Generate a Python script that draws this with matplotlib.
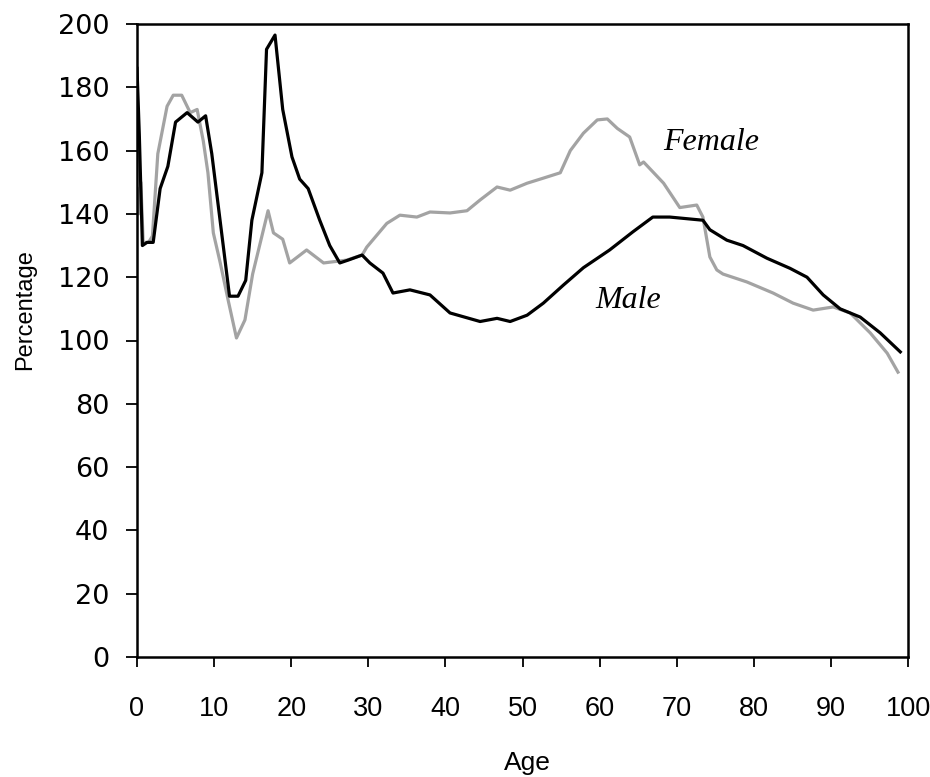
import matplotlib
matplotlib.use("Agg")
import matplotlib.pyplot as plt

# ---------------------------------------------------------------------------
# Data
# ---------------------------------------------------------------------------
male_age = [0, 0.3, 0.7, 1.3, 2.1, 3.0, 4.0, 5.0, 6.5, 7.9, 8.9, 9.7, 12.0, 13.1,
            14.1, 14.9, 16.2, 16.8, 17.9, 18.9, 20.1, 21.1, 22.2, 23.7, 25.0, 26.3,
            27.5, 29.2, 30.2, 31.9, 33.2, 35.4, 38.0, 40.6, 44.5, 46.7, 48.4, 50.6,
            52.7, 55.3, 57.9, 61.3, 64.3, 66.9, 69.1, 73.4, 74.3, 76.5, 78.6, 81.7,
            84.7, 86.9, 89.0, 91.2, 93.8, 96.4, 99.0]
male_pct = [186, 165, 130, 131, 131, 148, 155, 169, 172, 169, 171, 159, 114, 114,
            119, 138, 153, 192, 196.5, 173, 158, 151, 148, 138, 130, 124.5,
            125.5, 127, 124.5, 121.3, 115, 116, 114.4, 108.7, 106, 107, 106, 108,
            111.8, 117.5, 123, 128.6, 134.3, 139, 139, 138, 135, 131.7, 130, 126,
            122.8, 120, 114.4, 110, 107.4, 102.4, 96.4]

female_age = [0, 0.2, 0.5, 0.8, 1.5, 2.0, 2.7, 3.9, 4.7, 5.8, 6.9, 7.8, 8.6, 9.2,
              9.9, 10.8, 11.8, 12.9, 14.0, 15.0, 16.3, 17.0, 17.7, 18.9, 19.8, 22.0,
              24.2, 27.2, 29.2, 29.8, 32.4, 34.1, 36.3, 38.0, 40.6, 42.8, 44.5, 46.7,
              48.4, 50.6, 52.7, 54.9, 56.2, 57.9, 59.7, 61.0, 62.3, 63.9, 65.2, 65.7,
              68.3, 70.4, 72.6, 73.4, 74.3, 75.2, 76.0, 79.1, 82.5, 85.1, 87.7, 90.3,
              92.5, 95.1, 97.3, 98.7]
female_pct = [148, 140, 150, 131, 131, 133, 159, 174, 177.5, 177.5, 172, 173, 163, 153,
              134, 124.5, 113, 100.8, 106.5, 121, 134, 141, 134, 132, 124.5, 128.6,
              124.5, 125.4, 127, 129.5, 137, 139.6, 139, 140.6, 140.3, 141, 144.4, 148.5,
              147.5, 149.7, 151.3, 153, 160, 165.5, 169.7, 170, 167, 164.3, 155.5, 156.4,
              149.7, 142, 142.8, 139, 126.4, 122.3, 121, 118.5, 115, 111.8, 109.6, 110.6,
              108.7, 102.4, 96, 90]

x_ticks = list(range(0, 101, 10))
x_tick_labels = [str(t) for t in x_ticks]
y_ticks = list(range(0, 201, 20))

SANS = ["Liberation Sans Narrow", "Liberation Sans", "DejaVu Sans"]


def main():
    fig = plt.figure(figsize=(9.3, 7.77), dpi=100)
    ax = fig.add_axes([137 / 930, 1 - 657 / 777, (908 - 137) / 930, (657 - 24) / 777])

    ax.plot(female_age, female_pct, color="#a3a3a3", linewidth=2.3, solid_joinstyle="round")
    ax.plot(male_age, male_pct, color="black", linewidth=2.3, solid_joinstyle="round")

    ax.set_xlim(0, 100)
    ax.set_ylim(0, 200)
    ax.set_xticks(x_ticks)
    ax.set_xticklabels(x_tick_labels, family=SANS, fontsize=19.5)
    ax.set_yticks(y_ticks)
    ax.set_yticklabels([str(t) for t in y_ticks], family="DejaVu Sans", fontsize=19.5)
    ax.tick_params(axis="x", direction="out", length=7, width=1.3, pad=21)
    ax.tick_params(axis="y", direction="out", length=8, width=1.3, pad=12)

    for side in ("left", "right", "top", "bottom"):
        ax.spines[side].set_linewidth(1.8)

    ax.text(68.2, 160.2, "Female", family="Liberation Serif", style="italic",
            fontsize=23, va="baseline", ha="left")
    ax.text(59.5, 110.3, "Male", family="Liberation Serif", style="italic",
            fontsize=23, va="baseline", ha="left")

    fig.text(527 / 930, 1 - 770 / 777, "Age", family=SANS, fontsize=19,
             ha="center", va="baseline")
    fig.text(25 / 930, 1 - 310 / 777, "Percentage", family=SANS, fontsize=17,
             ha="center", va="center", rotation=90)

    fig.savefig("out.png", dpi=100)
    plt.close(fig)


if __name__ == "__main__":
    main()
